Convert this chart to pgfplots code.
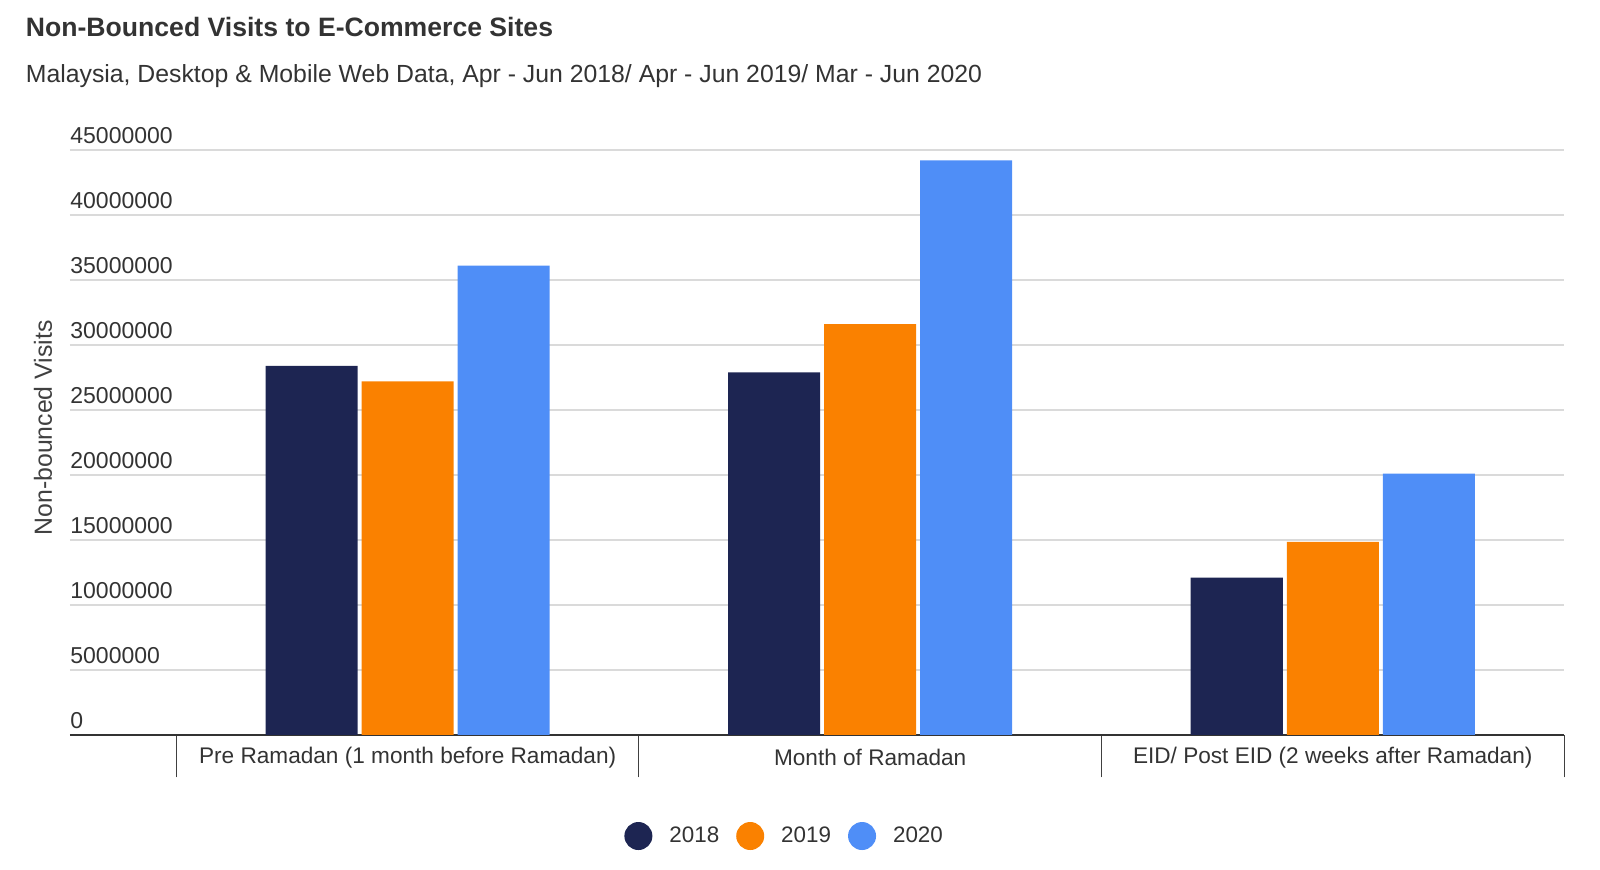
\documentclass[border=0pt]{standalone}
\usepackage{fontspec}
\setmainfont{Liberation Sans}
\usepackage{pgfplots}
\pgfplotsset{compat=1.18}
\definecolor{c18}{HTML}{1D2552}
\definecolor{c19}{HTML}{FA8100}
\definecolor{c20}{HTML}{4F8EF7}
\definecolor{txt}{HTML}{333333}
\definecolor{grd}{HTML}{DADADA}
\begin{document}
\begin{tikzpicture}
\begin{axis}[
  name=ax,
  scale only axis, width=747pt, height=292.5pt,
  xmin=-0.730, xmax=2.5, ymin=0, ymax=45000000,
  scaled y ticks=false,
  axis line style={draw=none},
  ybar=2pt, bar width=46pt,
  xtick={0,1,2},
  xticklabels={Pre Ramadan (1 month before Ramadan), Month of Ramadan, EID/ Post EID (2 weeks after Ramadan)},
  xtick pos=bottom, ytick pos=left,
  xtick style={draw=none},
  xticklabel style={font=\fontsize{11.3}{13}\selectfont, text=txt, anchor=center, yshift=-7pt},
  extra x ticks={-0.5,0.5,1.5,2.5},
  extra x tick labels={},
  extra x tick style={xtick style={draw=black!75, line width=0.5pt}, major tick length=21.25pt, tick align=outside},
  ytick={5000000,10000000,15000000,20000000,25000000,30000000,35000000,40000000,45000000},
  yticklabels={5000000,10000000,15000000,20000000,25000000,30000000,35000000,40000000,45000000},
  extra y ticks={0}, extra y tick labels={0},
  extra y tick style={grid style={draw=txt, line width=1.3pt}},
  ytick style={draw=none},
  yticklabel style={anchor=south west, inner sep=0pt, yshift=3pt, font=\fontsize{11.5}{13}\selectfont, text=txt},
  ymajorgrids, grid style={draw=grd, line width=0.65pt},
  ylabel={Non-bounced Visits},
  ylabel style={at={(axis description cs:-0.0181,0.525)}, anchor=center, font=\fontsize{12.4}{14}\selectfont, text=black!75},
  legend columns=3,
  legend style={at={(0.479,-0.1727)}, anchor=center, draw=none, fill=none, font=\fontsize{11.2}{13}\selectfont, text=txt,
    /tikz/every odd column/.append style={column sep=6.5pt},
    /tikz/every even column/.append style={column sep=6.5pt}},
  legend image code/.code={\fill[#1, draw=none] (0pt,0pt) circle (7pt);},
]
\addplot[fill=c18, draw=none] coordinates {(0,28400000) (1,27900000) (2,12100000)};
\addplot[fill=c19, draw=none] coordinates {(0,27200000) (1,31600000) (2,14850000)};
\addplot[fill=c20, draw=none] coordinates {(0,36100000) (1,44200000) (2,20100000)};
\legend{2018,2019,2020}
\end{axis}
\coordinate (O) at ([shift={(-35pt,-67.5pt)}]ax.south west);
\node[anchor=base west, inner sep=0pt, text=txt, font=\bfseries\fontsize{13.3}{15}\selectfont] at ([shift={(12.75pt,416.6pt)}]O) {Non-Bounced Visits to E-Commerce Sites};
\node[anchor=base west, inner sep=0pt, text=txt, font=\fontsize{12.4}{14}\selectfont] at ([shift={(12.75pt,393.6pt)}]O) {Malaysia, Desktop \& Mobile Web Data, Apr - Jun 2018/ Apr - Jun 2019/ Mar - Jun 2020};
\pgfresetboundingbox
\path[use as bounding box] (O) rectangle ([shift={(800pt,435pt)}]O);
\end{tikzpicture}
\end{document}
